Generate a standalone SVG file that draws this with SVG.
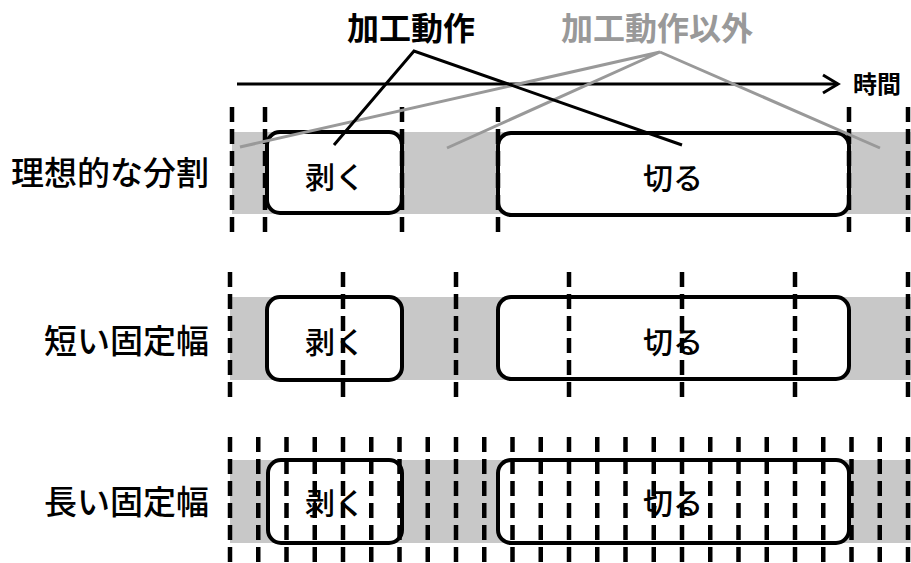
<svg xmlns="http://www.w3.org/2000/svg" width="911" height="563" viewBox="0 0 911 563">
<defs>
<marker id="chev" viewBox="0 0 20 22" refX="17" refY="11" markerWidth="20" markerHeight="22" markerUnits="userSpaceOnUse" orient="auto">
<path d="M2,2 L17,11 L2,20" fill="none" stroke="#000" stroke-width="3"/>
</marker>
<style>
.band{fill:#c8c8c8}
.box{fill:#fff;stroke:#000;stroke-width:4}
.dash{stroke:#000;stroke-width:4.5;stroke-dasharray:15 7;fill:none}
.lbl{font-family:"Noto Sans CJK JP","Noto Sans CJK SC",sans-serif;font-size:33px;fill:#000;font-weight:500}
.in{font-family:"Noto Sans CJK JP","Noto Sans CJK SC",sans-serif;font-size:30px;fill:#000;text-anchor:middle;font-weight:500}
.top{font-family:"Noto Sans CJK JP","Noto Sans CJK SC",sans-serif;font-size:32px;font-weight:bold;text-anchor:middle}
.blk{stroke:#000;stroke-width:3;fill:none}
.gry{stroke:#999;stroke-width:3;fill:none}
</style>
</defs>
<rect width="911" height="563" fill="#fff"/>

<!-- bands -->
<rect class="band" x="232" y="132" width="679" height="82"/>
<rect class="band" x="230" y="297" width="681" height="83"/>
<rect class="band" x="230" y="460" width="681" height="83"/>

<!-- row 1 -->
<g id="row1">
<text class="lbl" x="209" y="185" text-anchor="end">理想的な分割</text>
<g id="r1-peel"><rect class="box" x="267" y="132" width="135" height="81" rx="13"/><text class="in" x="335" y="188">剥く</text></g>
<g id="r1-cut"><rect class="box" x="498" y="133" width="351" height="82" rx="13"/><text class="in" x="673" y="189">切る</text></g>
</g>
<!-- row 2 -->
<g id="row2">
<text class="lbl" x="209" y="353" text-anchor="end">短い固定幅</text>
<g id="r2-peel"><rect class="box" x="267" y="297" width="135" height="83" rx="13"/><text class="in" x="335" y="353">剥く</text></g>
<g id="r2-cut"><rect class="box" x="498" y="297" width="351" height="82" rx="13"/><text class="in" x="673" y="353">切る</text></g>
</g>
<!-- row 3 -->
<g id="row3">
<text class="lbl" x="209" y="514" text-anchor="end">長い固定幅</text>
<g id="r3-peel"><rect class="box" x="268" y="460" width="134" height="83" rx="13"/><text class="in" x="335" y="514">剥く</text></g>
<g id="r3-cut"><rect class="box" x="498" y="460" width="351" height="83" rx="13"/><text class="in" x="673" y="514">切る</text></g>
</g>

<!-- dashed boundaries -->
<g id="bounds1" class="dash">
<path d="M232,107V232M265,107V232M402,107V232M498,107V232M849,107V232M908,107V232"/>
</g>
<g id="bounds2" class="dash">
<path d="M230,272V398M343,272V398M456,272V398M569,272V398M682,272V398M795,272V398M908,272V398"/>
</g>
<g id="bounds3" class="dash">
<path d="M230,437V563M258.25,437V563M286.5,437V563M314.75,437V563M343,437V563M371.25,437V563M399.5,437V563M427.75,437V563M456,437V563M484.25,437V563M512.5,437V563M540.75,437V563M569,437V563M597.25,437V563M625.5,437V563M653.75,437V563M682,437V563M710.25,437V563M738.5,437V563M766.75,437V563M795,437V563M823.25,437V563M851.5,437V563M879.75,437V563M908,437V563"/>
</g>

<!-- time axis -->
<g id="axis">
<line x1="237" y1="84" x2="838" y2="84" stroke="#000" stroke-width="3" marker-end="url(#chev)"/>
<text x="853" y="93" font-family="'Noto Sans CJK JP',sans-serif" font-size="24" font-weight="bold">時間</text>
</g>

<!-- labels -->
<g id="label-proc"><text class="top" x="411" y="40" fill="#000">加工動作</text></g>
<g id="label-other"><text class="top" x="657" y="40" fill="#999">加工動作以外</text></g>

<!-- connectors -->
<g id="connectors">
<path class="gry" d="M240,147L660,52L447,148M660,52L880,148"/>
<path class="blk" d="M334,145L414,51L682,145"/>
</g>
</svg>
